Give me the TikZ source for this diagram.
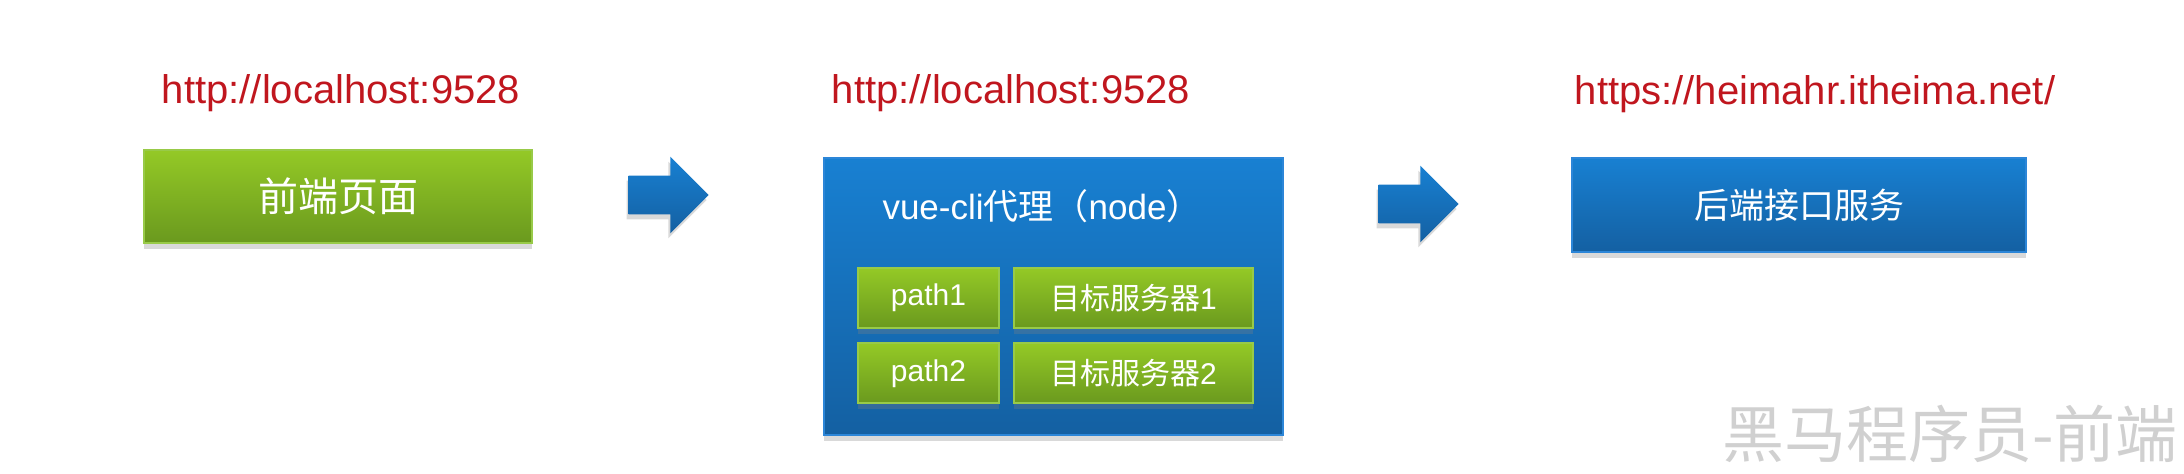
\documentclass[tikz,border=0pt]{standalone}
\usepackage{fontspec}
\setmainfont{Liberation Sans}
\newfontfamily\cjk{Noto Sans CJK SC}
\usetikzlibrary{shapes.arrows,shadows}
\definecolor{urlred}{RGB}{192,22,30}
\definecolor{greentop}{RGB}{148,201,38}
\definecolor{greenbot}{RGB}{106,153,30}
\definecolor{greenline}{RGB}{152,202,72}
\definecolor{bluetop}{RGB}{24,128,210}
\definecolor{bluebot}{RGB}{20,96,162}
\definecolor{blueline}{RGB}{44,134,216}
\definecolor{markgray}{RGB}{208,208,208}
\begin{document}
\begin{tikzpicture}[x=0.5pt,y=-0.5pt,
  url/.style={text=urlred,font=\fontsize{20}{24}\selectfont,anchor=base,inner sep=0pt},
  greenbox/.style={rectangle,draw=greenline,line width=1pt,top color=greentop,bottom color=greenbot,
    text=white,inner sep=0pt,drop shadow={shadow xshift=0pt,shadow yshift=-3pt,opacity=.3}},
  bluebox/.style={rectangle,draw=blueline,line width=1pt,top color=bluetop,bottom color=bluebot,
    text=white,inner sep=0pt,drop shadow={shadow xshift=0pt,shadow yshift=-3pt,opacity=.3}},
  blockarrow/.style={single arrow,single arrow head extend=9.5pt,minimum width=38pt,minimum height=40pt,
    inner sep=0pt,text height=19pt,text depth=0pt,top color=bluetop,bottom color=bluebot,
    drop shadow={shadow xshift=-1pt,shadow yshift=-2.5pt,opacity=.3}},
  ]
\useasboundingbox (0,0) rectangle (2184,474);
% addresses
\node[url] (url1) at (341,104) {http://localhost:9528};
\node[url] (url2) at (1011,104) {http://localhost:9528};
\node[url] (url3) at (1815,105) {https://heimahr.itheima.net/};
% front end
\node[greenbox,minimum width=194pt,minimum height=46.5pt,font=\cjk\fontsize{20}{24}\selectfont]
  (front) at (338,196.5) {前端页面};
\node[blockarrow] (arrow1) at (659,195) {};
% proxy
\node[bluebox,minimum width=229.5pt,minimum height=138.5pt] (proxy) at (1053.5,296.5) {};
\node[text=white,anchor=base,inner sep=0pt,font=\fontsize{17.5}{21}\selectfont]
  (proxytitle) at (1042,220) {vue-cli{\cjk 代理（}node{\cjk ）}};
\node[greenbox,minimum width=70.5pt,minimum height=30pt,font=\fontsize{15}{18}\selectfont]
  (path1) at (928.5,298) {path1};
\node[greenbox,minimum width=119.5pt,minimum height=30pt,font=\fontsize{15}{18}\selectfont]
  (target1) at (1133.5,298) {{\cjk 目标服务器}1};
\node[greenbox,minimum width=70.5pt,minimum height=30pt,font=\fontsize{15}{18}\selectfont]
  (path2) at (928.5,373.5) {path2};
\node[greenbox,minimum width=119.5pt,minimum height=30pt,font=\fontsize{15}{18}\selectfont]
  (target2) at (1133.5,373.5) {{\cjk 目标服务器}2};
\node[blockarrow] (arrow2) at (1409,204) {};
% back end
\node[bluebox,minimum width=227pt,minimum height=47pt,font=\cjk\fontsize{17.5}{21}\selectfont]
  (back) at (1799,205) {后端接口服务};
% watermark
\node[anchor=base east,inner sep=0pt,text=markgray,font=\cjk\fontsize{31}{36}\selectfont]
  (mark) at (2178,458) {黑马程序员-前端};
\end{tikzpicture}
\end{document}
